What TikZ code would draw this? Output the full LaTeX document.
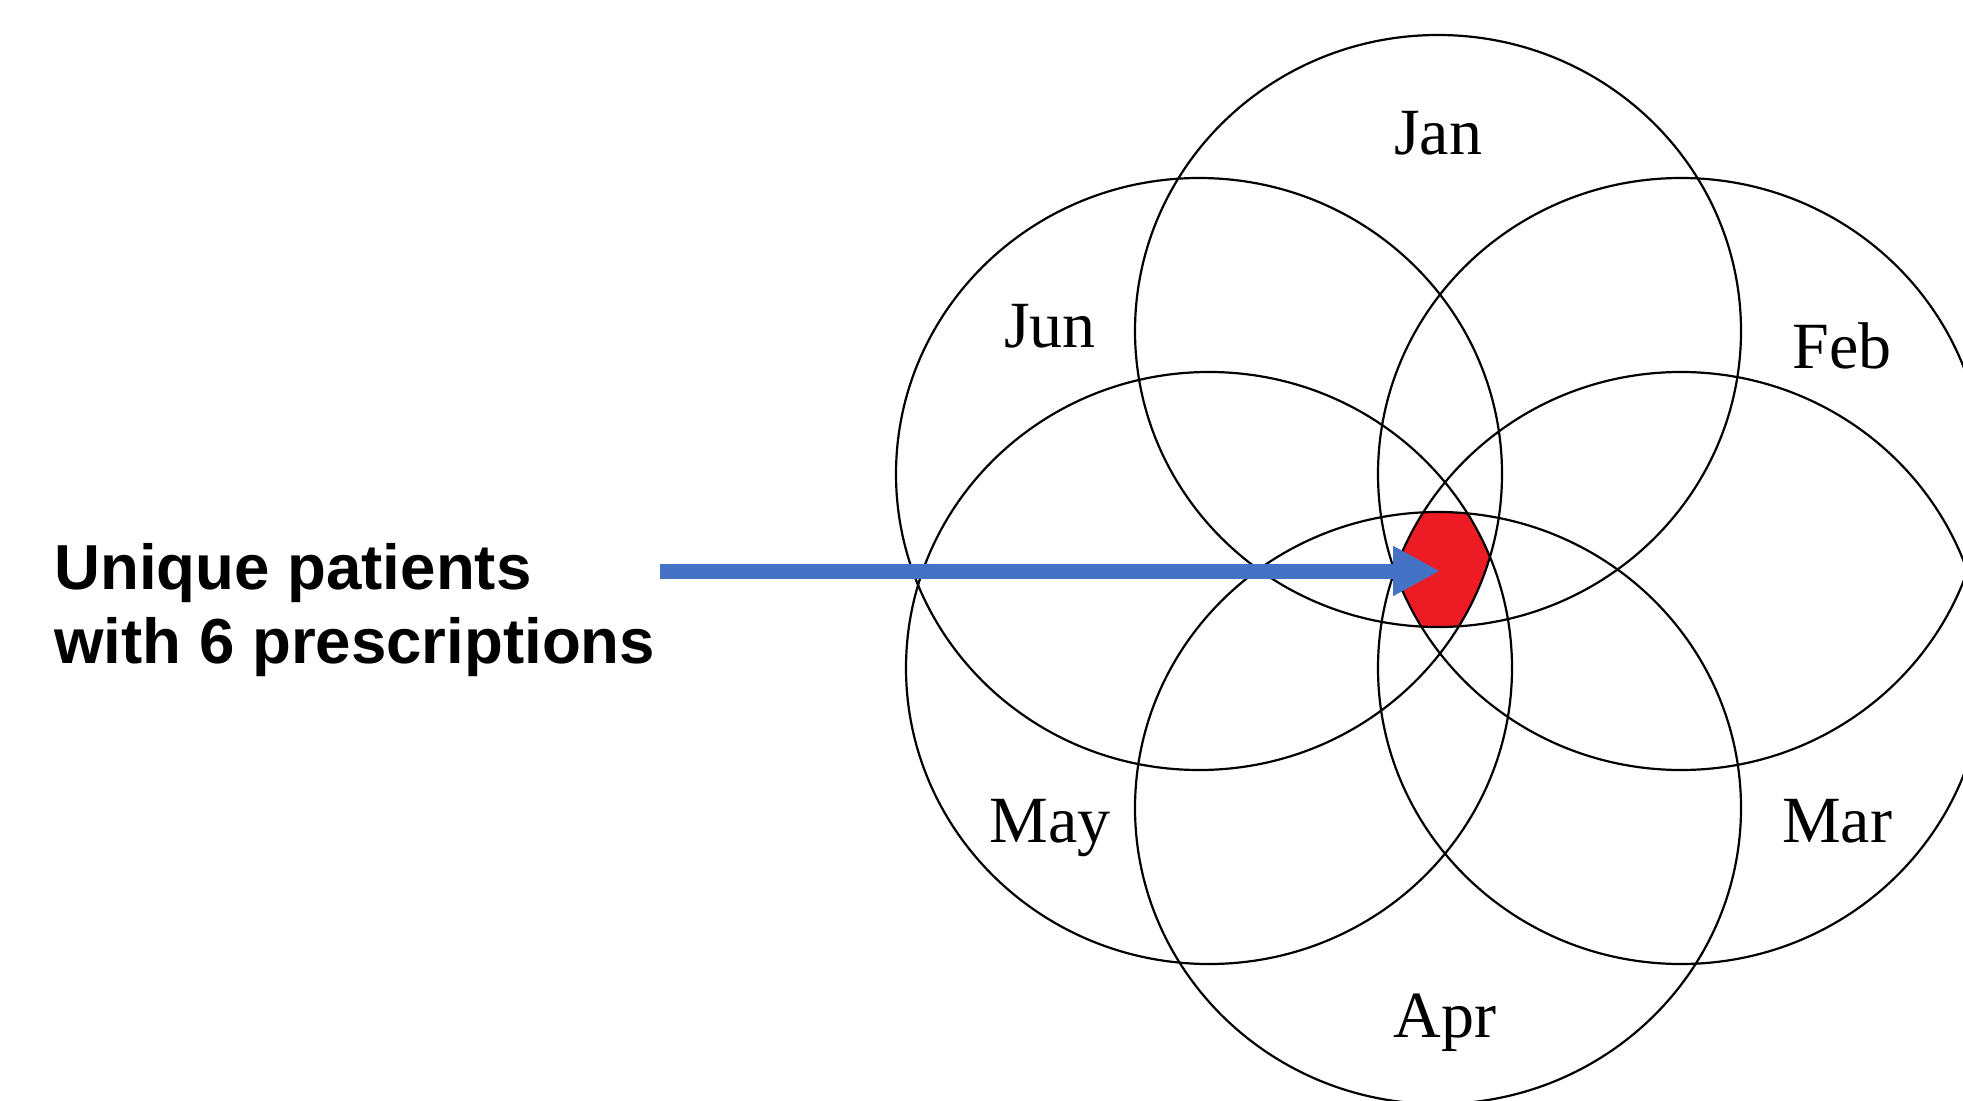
\documentclass[tikz,border=0pt]{standalone}
\usepackage{fontspec}
\setmainfont{Liberation Serif}
\setsansfont{Liberation Sans}
\usetikzlibrary{arrows.meta}
\definecolor{arrowblue}{RGB}{68,114,196}
\definecolor{hexred}{RGB}{237,28,36}

\begin{document}
\begin{tikzpicture}[x=0.5pt,y=-0.5pt,
  ring/.style={draw=black, line width=1.1pt},
  month/.style={anchor=base, font=\fontsize{33pt}{40pt}\selectfont}]
\clip (0,0) rectangle (1963,1101);
\fill[white] (0,0) rectangle (1963,1101);
% centres of the six months
\coordinate (jan) at (1438,331);
\coordinate (feb) at (1681,474);
\coordinate (mar) at (1681,668);
\coordinate (apr) at (1438,808);
\coordinate (may) at (1209,668);
\coordinate (jun) at (1199,474);
% overlap of all six
\begin{scope}
\clip (jan) ellipse [x radius=303, y radius=296];
\clip (feb) ellipse [x radius=303, y radius=296];
\clip (mar) ellipse [x radius=303, y radius=296];
\clip (apr) ellipse [x radius=303, y radius=296];
\clip (may) ellipse [x radius=303, y radius=296];
\clip (jun) ellipse [x radius=303, y radius=296];
\fill[hexred] (0,0) rectangle (1963,1101);
\end{scope}
\foreach \m in {jan,feb,mar,apr,may,jun}
  \draw[ring] (\m) ellipse [x radius=303, y radius=296];
\node[month] (jan-label) at (1438,155) {Jan};
\node[month] (feb-label) at (1842,368) {Feb};
\node[month] (mar-label) at (1837,842) {Mar};
\node[month] (apr-label) at (1445,1037) {Apr};
\node[month] (may-label) at (1050,842) {May};
\node[month] (jun-label) at (1050,348) {Jun};
\node[anchor=north west, inner sep=0pt, align=left,
  font=\sffamily\bfseries\fontsize{31.8pt}{37pt}\selectfont] (caption) at (54,543)
  {Unique patients\\with 6 prescriptions};
\coordinate (tail) at (660,571);
\coordinate (core) at (1440,571);
\draw[arrowblue, line width=7.5pt, -{Triangle[length=23.5pt, width=23.5pt]}] (tail) -- (core);
\end{tikzpicture}
\end{document}
